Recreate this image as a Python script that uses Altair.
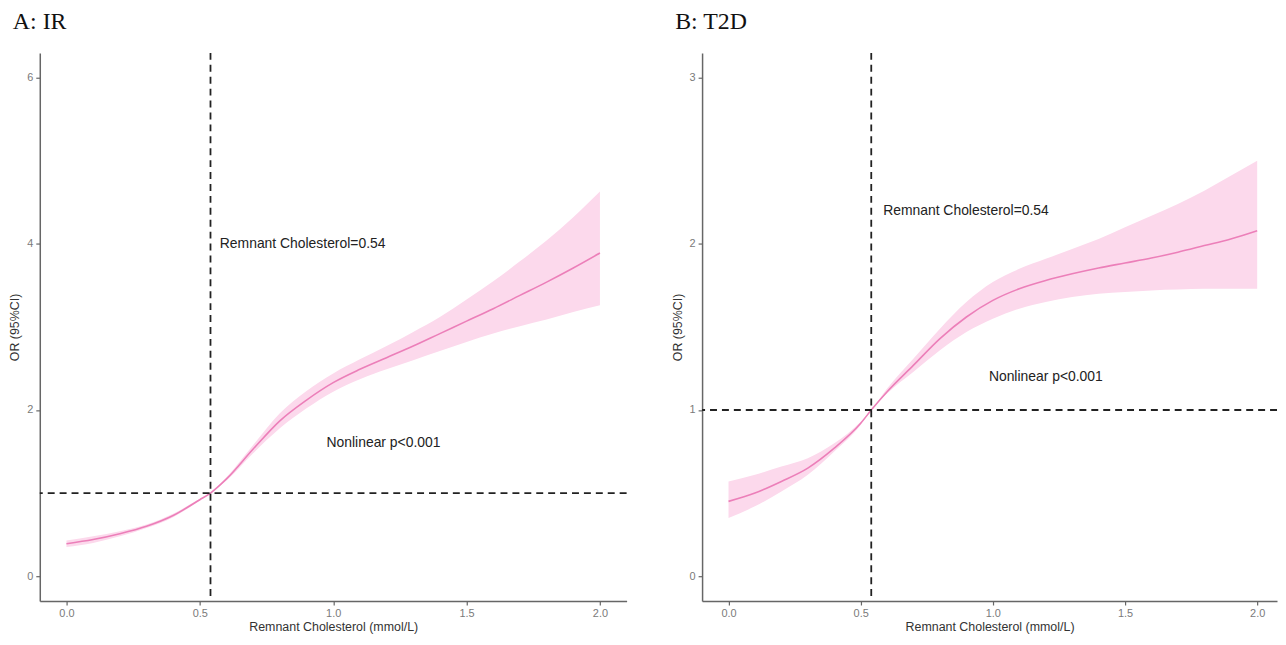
import altair as alt
import pandas as pd

# Shared x grid (Remnant Cholesterol, mmol/L)
x_vals = [0.0, 0.1, 0.2, 0.3, 0.4, 0.5, 0.54, 0.6, 0.7, 0.8, 0.9, 1.0,
          1.1, 1.2, 1.3, 1.4, 1.5, 1.6, 1.7, 1.8, 1.9, 2.0]

# Panel A: IR
ir_or = [0.39, 0.44, 0.51, 0.60, 0.73, 0.92, 1.00, 1.17, 1.53, 1.87, 2.12, 2.33,
         2.49, 2.63, 2.77, 2.92, 3.07, 3.22, 3.38, 3.54, 3.71, 3.89]
ir_lo = [0.35, 0.40, 0.48, 0.58, 0.71, 0.91, 1.00, 1.15, 1.48, 1.78, 2.02, 2.22,
         2.37, 2.49, 2.60, 2.71, 2.82, 2.92, 3.01, 3.09, 3.18, 3.26]
ir_hi = [0.43, 0.48, 0.54, 0.62, 0.75, 0.93, 1.00, 1.19, 1.58, 1.96, 2.23, 2.44,
         2.61, 2.77, 2.94, 3.12, 3.33, 3.55, 3.79, 4.04, 4.32, 4.63]

# Panel B: T2D
t2d_or = [0.45, 0.50, 0.57, 0.65, 0.77, 0.92, 1.00, 1.11, 1.27, 1.43, 1.56, 1.66,
          1.73, 1.78, 1.82, 1.855, 1.885, 1.915, 1.95, 1.99, 2.03, 2.08]
t2d_lo = [0.35, 0.42, 0.51, 0.61, 0.75, 0.91, 1.00, 1.10, 1.23, 1.36, 1.47, 1.55,
          1.61, 1.65, 1.68, 1.70, 1.71, 1.72, 1.725, 1.73, 1.73, 1.73]
t2d_hi = [0.57, 0.61, 0.66, 0.71, 0.80, 0.93, 1.00, 1.13, 1.31, 1.49, 1.65, 1.77,
          1.85, 1.91, 1.97, 2.03, 2.10, 2.17, 2.24, 2.32, 2.41, 2.50]

x_ticks = [0.0, 0.5, 1.0, 1.5, 2.0]
cutoff = 0.54
ref_or = 1.0

ann_labels = ["Remnant Cholesterol=0.54", "Nonlinear p<0.001"]
ir_ann_x = [0.575, 0.975]
ir_ann_y = [4.0, 1.6]
t2d_ann_x = [0.585, 0.985]
t2d_ann_y = [2.2, 1.2]

BAND = "#fcd9ec"
LINE = "#ec7fb9"
DASH = "#222222"


def panel(title, orv, lo, hi, ydomain, yticks, xdomain, width, ax, ay):
    df = pd.DataFrame({"x": x_vals, "or": orv, "lo": lo, "hi": hi})
    xs = alt.Scale(domain=xdomain, nice=False, zero=False)
    ys = alt.Scale(domain=ydomain, nice=False, zero=False)
    xax = alt.Axis(values=x_ticks, format=".1f", title="Remnant Cholesterol (mmol/L)")
    yax = alt.Axis(values=yticks, format="d", title="OR (95%CI)")

    band = alt.Chart(df).mark_area(color=BAND, opacity=1, interpolate="monotone").encode(
        x=alt.X("x:Q", scale=xs, axis=xax),
        y=alt.Y("lo:Q", scale=ys, axis=yax),
        y2="hi:Q",
    )
    line = alt.Chart(df).mark_line(color=LINE, strokeWidth=1.6, interpolate="monotone").encode(
        x=alt.X("x:Q", scale=xs),
        y=alt.Y("or:Q", scale=ys),
    )
    vrule = alt.Chart(pd.DataFrame({"v": [cutoff]})).mark_rule(
        color=DASH, strokeWidth=1.8, strokeDash=[7, 5]
    ).encode(x=alt.X("v:Q", scale=xs))
    hrule = alt.Chart(pd.DataFrame({"h": [ref_or]})).mark_rule(
        color=DASH, strokeWidth=1.8, strokeDash=[7, 5]
    ).encode(y=alt.Y("h:Q", scale=ys))
    text = alt.Chart(pd.DataFrame({"x": ax, "y": ay, "label": ann_labels})).mark_text(
        align="left", baseline="middle", fontSize=14, color="#222222", font="Liberation Sans"
    ).encode(
        x=alt.X("x:Q", scale=xs),
        y=alt.Y("y:Q", scale=ys),
        text="label:N",
    )
    return alt.layer(band, line, vrule, hrule, text).properties(
        width=width,
        height=552,
        title=alt.TitleParams(
            title, anchor="start", frame="bounds", font="Liberation Serif",
            fontSize=24, fontWeight="normal", color="#111111", offset=18, dx=4,
        ),
    )


a = panel("A: IR", ir_or, ir_lo, ir_hi, [-0.3, 6.3], [0, 2, 4, 6], [-0.1, 2.1], 591,
          ir_ann_x, ir_ann_y)
b = panel("B: T2D", t2d_or, t2d_lo, t2d_hi, [-0.15, 3.15], [0, 1, 2, 3], [-0.1, 2.075], 579,
          t2d_ann_x, t2d_ann_y)

chart = alt.hconcat(a, b, spacing=43).properties(padding=0).configure_view(
    stroke=None
).configure_axis(
    grid=False,
    domainColor="#666666",
    domainWidth=1.5,
    tickColor="#666666",
    tickWidth=1.2,
    tickSize=4,
    labelPadding=3,
    labelFont="Liberation Sans",
    labelFontSize=11,
    labelColor="#7a7a7a",
    titleFont="Liberation Sans",
    titleFontSize=12.5,
    titleFontWeight="normal",
    titleColor="#333333",
    titlePadding=5,
).configure_axisX(titlePadding=2)

chart.save("out.html", embed_options={"renderer": "svg", "actions": False})
